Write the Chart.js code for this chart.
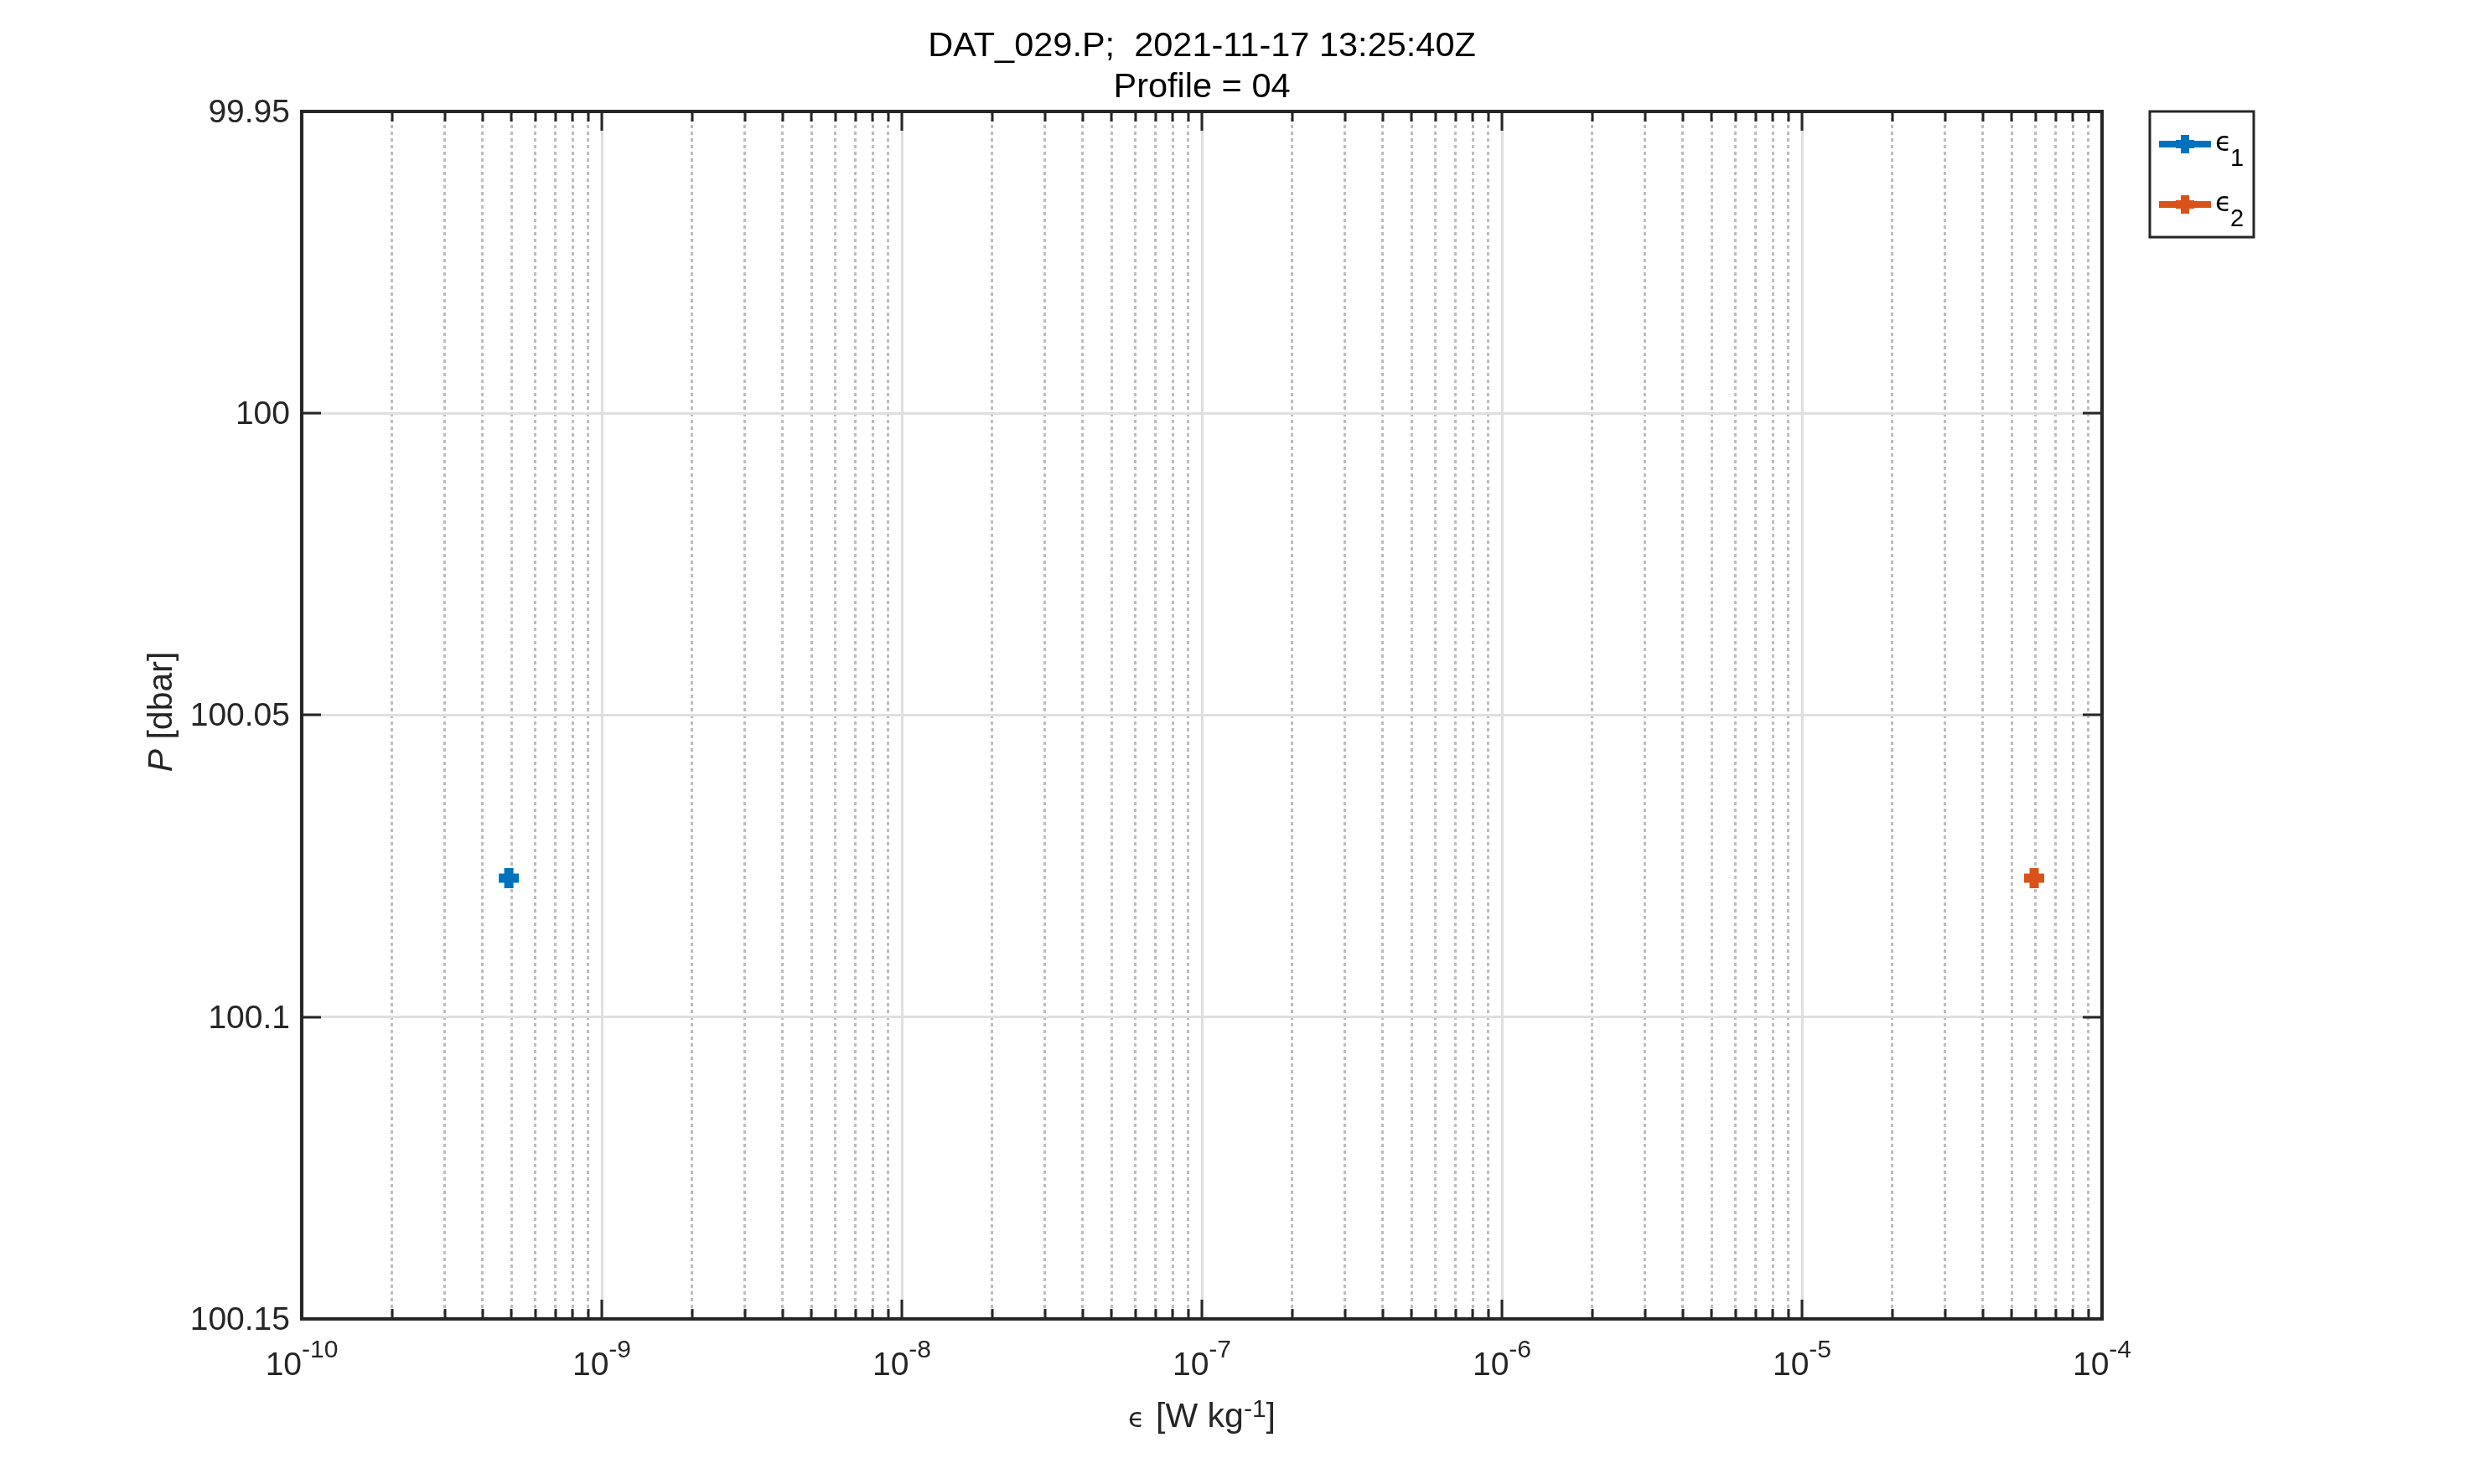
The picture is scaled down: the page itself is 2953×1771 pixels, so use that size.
<!DOCTYPE html>
<html>
<head>
<meta charset="utf-8">
<script src="https://cdn.jsdelivr.net/npm/chart.js@4.4.1/dist/chart.umd.min.js"></script>
<style>
  html, body { margin: 0; padding: 0; background: #fff; }
  canvas { display: block; }
</style>
</head>
<body>
<canvas id="epsChart" width="2953" height="1771"></canvas>
<script>
// --- DATA ---
const titleLines = ['DAT_029.P;  2021-11-17 13:25:40Z', 'Profile = 04'];
const seriesSubscripts = ['1', '2'];
const seriesColors = ['#0072BD', '#D95319'];
const pressure = [100.077];
const eps1 = [4.9e-10];
const eps2 = [5.94e-5];
const xDecades = [-10, -9, -8, -7, -6, -5, -4];
const xMinorMult = [2, 3, 4, 5, 6, 7, 8, 9];
const yTicks = [99.95, 100, 100.05, 100.1, 100.15];
const yTickLabels = ['99.95', '100', '100.05', '100.1', '100.15'];

// --- CONSTANTS ---
const FONT = '"Liberation Sans", Arial, Helvetica, sans-serif';
const EPS_FONT = '32px "DejaVu Sans", sans-serif';
const AXIS_COLOR = '#262626';
const MAJOR_GRID = '#dfdfdf';
const MINOR_GRID = '#bdbdbd';

const xTickValues = [];
xDecades.forEach((d, i) => {
    xTickValues.push(Number('1e' + d));
    if (i < xDecades.length - 1) {
        xMinorMult.forEach(m => xTickValues.push(Number(m + 'e' + d)));
    }
});
const isDecade = v => Math.abs(Math.log10(v) - Math.round(Math.log10(v))) < 1e-6;

// draw a run of text pieces (font / vertical shift) centred on cx
function drawRich(ctx, parts, cx, baseline) {
    let total = 0;
    parts.forEach(p => { ctx.font = p.font; p.w = ctx.measureText(p.text).width; total += p.w + (p.gap || 0); });
    let xPos = cx - total / 2;
    parts.forEach(p => {
        ctx.font = p.font;
        ctx.fillText(p.text, xPos, baseline - (p.dy || 0));
        xPos += p.w + (p.gap || 0);
    });
}

function drawCross(ctx, x, y, r, color, width) {
    ctx.strokeStyle = color;
    ctx.lineWidth = width;
    ctx.beginPath();
    ctx.moveTo(x - r, y); ctx.lineTo(x + r, y);
    ctx.moveTo(x, y - r); ctx.lineTo(x, y + r);
    ctx.stroke();
}

// --- MATLAB-like axes decoration ---
const matlabAxes = {
    id: 'matlabAxes',
    afterDraw(chart) {
        const { ctx, chartArea: a, scales: { x, y } } = chart;
        ctx.save();

        // inward ticks on all four sides
        ctx.strokeStyle = AXIS_COLOR;
        ctx.lineWidth = 3;
        ctx.beginPath();
        x.ticks.forEach(t => {
            const px = Math.round(x.getPixelForValue(t.value));
            const len = isDecade(t.value) ? 23 : 12;
            ctx.moveTo(px, a.bottom); ctx.lineTo(px, a.bottom - len);
            ctx.moveTo(px, a.top); ctx.lineTo(px, a.top + len);
        });
        y.ticks.forEach(t => {
            const py = Math.round(y.getPixelForValue(t.value));
            ctx.moveTo(a.left, py); ctx.lineTo(a.left + 23, py);
            ctx.moveTo(a.right, py); ctx.lineTo(a.right - 23, py);
        });
        ctx.stroke();

        // box
        ctx.lineWidth = 4;
        ctx.strokeRect(a.left, a.top, a.right - a.left, a.bottom - a.top);

        // x tick labels 10^n
        ctx.fillStyle = AXIS_COLOR;
        ctx.textAlign = 'left';
        ctx.textBaseline = 'alphabetic';
        x.ticks.filter(t => isDecade(t.value)).forEach(t => {
            const px = x.getPixelForValue(t.value);
            const e = Math.round(Math.log10(t.value));
            drawRich(ctx, [
                { text: '10', font: '39px ' + FONT },
                { text: '-' + Math.abs(e), font: '30px ' + FONT, dy: 21 }
            ], px, 1641);
        });

        // y tick labels
        ctx.textAlign = 'right';
        ctx.textBaseline = 'middle';
        ctx.font = '39px ' + FONT;
        y.ticks.forEach(t => {
            const py = y.getPixelForValue(t.value);
            ctx.fillText(yTickLabels[yTicks.indexOf(t.value)] ?? t.value, a.left - 14, py + 2);
        });

        // x axis label
        ctx.textAlign = 'left';
        ctx.textBaseline = 'alphabetic';
        const cx = (a.left + a.right) / 2;
        drawRich(ctx, [
            { text: 'ϵ', font: EPS_FONT, gap: 2 },
            { text: ' [W kg', font: '41px ' + FONT },
            { text: '-1', font: '30px ' + FONT, dy: 12 },
            { text: ']', font: '41px ' + FONT }
        ], cx, 1703);

        // y axis label
        ctx.save();
        ctx.translate(205, (a.top + a.bottom) / 2 - 4);
        ctx.rotate(-Math.PI / 2);
        drawRich(ctx, [
            { text: 'P', font: 'italic 41px ' + FONT },
            { text: ' [dbar]', font: '41px ' + FONT }
        ], 0, 0);
        ctx.restore();

        // title
        ctx.fillStyle = '#000';
        ctx.textAlign = 'center';
        ctx.font = '41.5px ' + FONT;
        ctx.fillText(titleLines[0], cx, 67);
        ctx.fillText(titleLines[1], cx, 116);

        // legend
        const lx = 2565, ly = 133, lw = 124, lh = 150;
        ctx.fillStyle = '#fff';
        ctx.fillRect(lx, ly, lw, lh);
        ctx.strokeStyle = AXIS_COLOR;
        ctx.lineWidth = 3;
        ctx.strokeRect(lx, ly, lw, lh);
        const rows = [172, 244];
        chart.data.datasets.forEach((ds, i) => {
            const ry = rows[i];
            ctx.strokeStyle = ds.borderColor;
            ctx.lineWidth = 8;
            ctx.beginPath();
            ctx.moveTo(2576, ry); ctx.lineTo(2638, ry);
            ctx.stroke();
            drawCross(ctx, 2607, ry, 11, ds.borderColor, 10);
            ctx.fillStyle = '#000';
            ctx.textAlign = 'left';
            ctx.font = EPS_FONT;
            ctx.fillText('ϵ', 2643, ry + 8);
            ctx.font = '29px ' + FONT;
            ctx.fillText(seriesSubscripts[i], 2661, ry + 26);
        });

        ctx.restore();
    }
};

// --- CHART ---
function renderEpsilonChart() {
    const ctx = document.getElementById('epsChart').getContext('2d');
    const makeSet = (xs, i) => ({
        label: 'ϵ' + seriesSubscripts[i],
        data: xs.map((v, k) => ({ x: v, y: pressure[k] })),
        borderColor: seriesColors[i],
        backgroundColor: seriesColors[i],
        borderWidth: 8,
        showLine: true,
        pointStyle: 'cross',
        pointRadius: 12,
        pointHoverRadius: 12,
        pointBorderWidth: 11,
        pointHoverBorderWidth: 11
    });

    new Chart(ctx, {
        type: 'scatter',
        data: { datasets: [makeSet(eps1, 0), makeSet(eps2, 1)] },
        options: {
            responsive: false,
            animation: false,
            devicePixelRatio: 1,
            layout: { padding: { left: 360, right: 445, top: 133, bottom: 197 } },
            plugins: {
                legend: { display: false },
                title: { display: false },
                tooltip: { enabled: false }
            },
            scales: {
                x: {
                    type: 'logarithmic',
                    min: Number('1e' + xDecades[0]),
                    max: Number('1e' + xDecades[xDecades.length - 1]),
                    afterBuildTicks: s => { s.ticks = xTickValues.map(v => ({ value: v, major: isDecade(v) })); },
                    afterFit: s => { s.height = 0; },
                    ticks: { display: false, autoSkip: false },
                    grid: {
                        drawTicks: false,
                        color: c => (c.tick && isDecade(c.tick.value)) ? MAJOR_GRID : MINOR_GRID,
                        lineWidth: 3
                    },
                    border: {
                        display: false,
                        dash: c => (c.tick && !isDecade(c.tick.value)) ? [4, 4] : []
                    }
                },
                y: {
                    type: 'linear',
                    reverse: true,
                    min: yTicks[0],
                    max: yTicks[yTicks.length - 1],
                    afterBuildTicks: s => { s.ticks = yTicks.map(v => ({ value: v })); },
                    afterFit: s => { s.width = 0; },
                    ticks: { display: false },
                    grid: { drawTicks: false, color: MAJOR_GRID, lineWidth: 3 },
                    border: { display: false }
                }
            }
        },
        plugins: [matlabAxes]
    });
}

window.onload = function () {
    renderEpsilonChart();
};
</script>
</body>
</html>
